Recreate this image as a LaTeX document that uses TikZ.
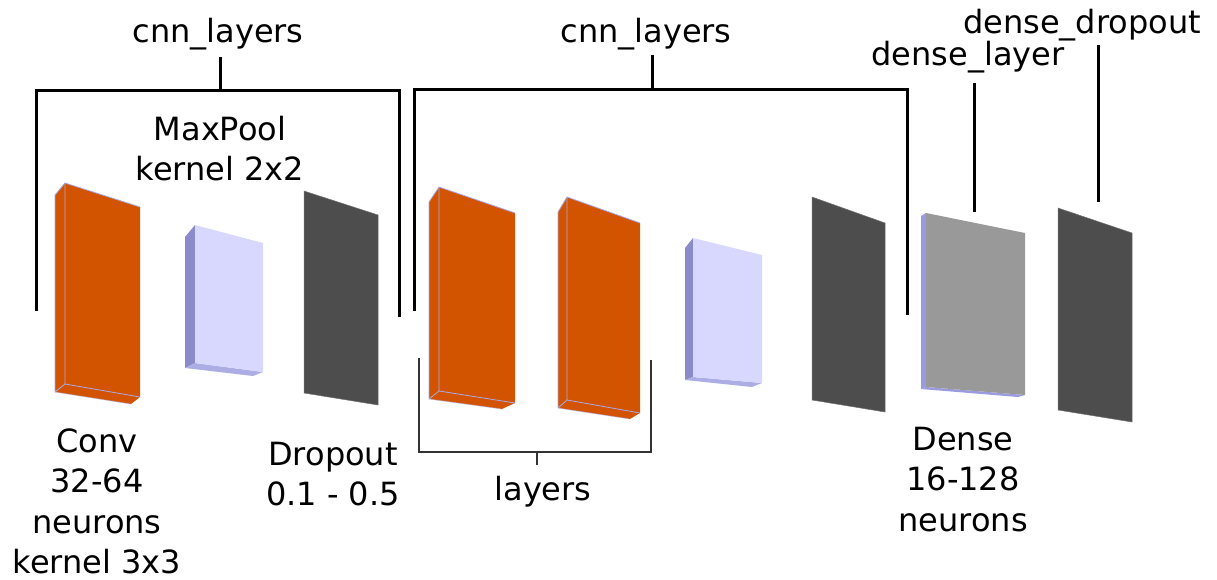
\documentclass[tikz,border=0pt]{standalone}
\usepackage{fontspec}
\setmainfont{DejaVu Sans}
\newcommand{\lines}[1]{\begin{tabular}[t]{@{}c@{}}#1\end{tabular}}
\definecolor{convorange}{HTML}{D35400}
\definecolor{poolfront}{HTML}{D8D8FF}
\definecolor{poolside}{HTML}{8B8BC9}
\definecolor{poolbottom}{HTML}{ADADE6}
\definecolor{densefront}{HTML}{999999}
\definecolor{denseside}{HTML}{9A9ADF}
\definecolor{dropdark}{HTML}{4D4D4D}
\definecolor{edgeblue}{HTML}{A8A8E8}
\begin{document}
\begin{tikzpicture}[x=1pt,y=-1pt,
  lbl/.style={inner sep=0pt,anchor=base,font=\fontsize{32}{40.5}\selectfont},
  bracket/.style={line width=3pt,black},
  subbracket/.style={line width=2pt,black!80},
  edge/.style={draw=edgeblue,line width=0.8pt,line join=round},
  flat/.style={fill=dropdark,draw=dropdark!80,line width=0.5pt}]
\useasboundingbox (0,0) rectangle (1217,579);

% --- block 1 (Conv): left face, bottom face, front face
\fill[convorange] (65,183) -- (55,195) -- (55,392) -- (65,384) -- cycle;
\fill[convorange] (65,384) -- (55,392) -- (131,404) -- (140,397) -- cycle;
\fill[convorange] (65,183) -- (140,207) -- (140,397) -- (65,384) -- cycle;
\draw[edge] (55,195) -- (65,183) -- (140,207);
\draw[edge] (65,183) -- (65,384) -- (140,397);
\draw[edge] (55,195) -- (55,392) -- (65,384);
\draw[edge,opacity=0.5] (55,392) -- (131,404);

% --- block 2 (MaxPool)
\fill[poolside] (195,225) -- (185,237) -- (185,368) -- (195,363) -- cycle;
\fill[poolbottom] (195,363) -- (185,368) -- (253,376) -- (263,372) -- cycle;
\fill[poolfront] (195,225) -- (263,243) -- (263,372) -- (195,363) -- cycle;

% --- block 3 (Dropout)
\filldraw[flat] (304,191) -- (378,215) -- (378,405) -- (304,393) -- cycle;

% --- block 4 (Conv)
\fill[convorange] (439,187) -- (429,202) -- (429,399) -- (439,391) -- cycle;
\fill[convorange] (439,391) -- (429,399) -- (502,409) -- (515,403) -- cycle;
\fill[convorange] (439,187) -- (515,213) -- (515,403) -- (439,391) -- cycle;
\draw[edge] (429,202) -- (439,187) -- (515,213);
\draw[edge] (439,187) -- (439,391) -- (515,403);
\draw[edge] (429,202) -- (429,399) -- (439,391);
\draw[edge,opacity=0.5] (429,399) -- (502,409);

% --- block 5 (Conv)
\fill[convorange] (567,197) -- (558,212) -- (558,408) -- (567,400) -- cycle;
\fill[convorange] (567,400) -- (558,408) -- (630,419) -- (640,413) -- cycle;
\fill[convorange] (567,197) -- (640,223) -- (640,413) -- (567,400) -- cycle;
\draw[edge] (558,212) -- (567,197) -- (640,223);
\draw[edge] (567,197) -- (567,400) -- (640,413);
\draw[edge] (558,212) -- (558,408) -- (567,400);
\draw[edge,opacity=0.5] (558,408) -- (630,419);

% --- block 6 (MaxPool)
\fill[poolside] (693,238) -- (685,248) -- (685,380) -- (693,377) -- cycle;
\fill[poolbottom] (693,377) -- (685,380) -- (752,387) -- (762,383) -- cycle;
\fill[poolfront] (693,238) -- (762,255) -- (762,383) -- (693,377) -- cycle;

% --- block 7 (Dropout)
\filldraw[flat] (812,197) -- (885,223) -- (885,412) -- (812,400) -- cycle;

% --- block 8 (Dense)
\fill[denseside] (926,213) -- (921,216) -- (921,389) -- (926,387) -- cycle;
\fill[denseside] (926,387) -- (921,389) -- (1018,397) -- (1025,395) -- cycle;
\fill[densefront] (926,213) -- (1025,233) -- (1025,395) -- (926,387) -- cycle;

% --- block 9 (dense dropout)
\filldraw[flat] (1058,208) -- (1132,233) -- (1132,422) -- (1058,410) -- cycle;

% labels
\node[lbl] (cnnA) at (218,42) {cnn\_layers};
\node[lbl] (cnnB) at (646,42) {cnn\_layers};
\node[lbl] (dlayer) at (968,65) {dense\_layer};
\node[lbl] (ddrop) at (1082,33) {dense\_dropout};
\node[lbl] (pool) at (220,140) {\lines{MaxPool\\kernel 2x2}};
\node[lbl] (conv) at (97,452) {\lines{Conv\\32-64\\neurons\\kernel 3x3}};
\node[lbl] (drop) at (333,465) {\lines{Dropout\\0.1 - 0.5}};
\node[lbl] (lay) at (543,500) {layers};
\node[lbl] (dense) at (963,450) {\lines{Dense\\16-128\\neurons}};

% first cnn_layers bracket
\coordinate (a1) at (36,311);
\coordinate (a2) at (36,90);
\coordinate (a3) at (399,90);
\coordinate (a4) at (399,317);
\coordinate (at) at (220,90);
\coordinate (atop) at (220,57);
\draw[bracket] (a1) -- (a2) -- (a3) -- (a4);
\draw[bracket] (atop) -- (at);

% second cnn_layers bracket
\coordinate (b1) at (414,311);
\coordinate (b2) at (414,89);
\coordinate (b3) at (907,89);
\coordinate (b4) at (907,315);
\coordinate (bt) at (652,89);
\coordinate (btop) at (652,55);
\draw[bracket] (b1) -- (b2) -- (b3) -- (b4);
\draw[bracket] (btop) -- (bt);

% layers bracket under the two conv blocks
\coordinate (c1) at (419,358);
\coordinate (c2) at (419,452);
\coordinate (c3) at (651,452);
\coordinate (c4) at (651,360);
\coordinate (ct) at (537,452);
\coordinate (cbot) at (537,465);
\draw[subbracket] (c1) -- (c2) -- (c3) -- (c4);
\draw[subbracket] (ct) -- (cbot);

% pointers to the dense blocks
\coordinate (dltop) at (974,83);
\coordinate (dl) at (974,212);
\draw[bracket] (dltop) -- (dl);
\coordinate (ddtop) at (1098,45);
\coordinate (dd) at (1098,202);
\draw[bracket] (ddtop) -- (dd);
\end{tikzpicture}
\end{document}
